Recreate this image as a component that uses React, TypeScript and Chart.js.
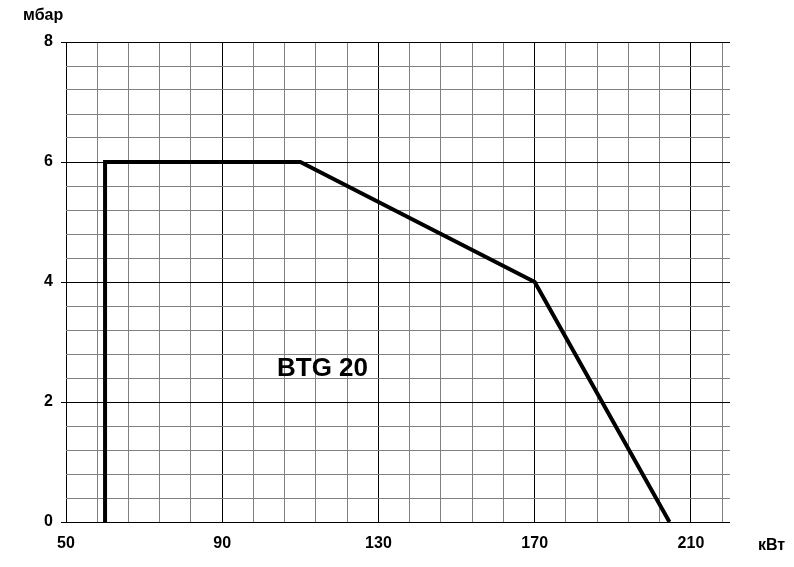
import React, { useEffect, useRef } from "react";
import { Chart, registerables } from "chart.js";

Chart.register(...registerables);

// Data
const powerKW: number[] = [60, 60, 110, 170, 204.5];
const pressureMbar: number[] = [0, 6, 6, 4, 0];

// Axis / tick definitions
const xMin = 50;
const xMax = 220;
const xGridStep = 8;
const xMajorStep = 40;
const yMin = 0;
const yMax = 8;
const yGridDiv = 20; // 0.4 steps
const yMajorStep = 2;

const xTickValues: number[] = [];
for (let v = xMin; v < xMax; v += xGridStep) xTickValues.push(v);
const yTickValues: number[] = [];
for (let i = 0; i <= yGridDiv; i++) yTickValues.push((i * (yMax - yMin)) / yGridDiv);

const modelLabel = "BTG 20";
const xUnit = "кВт";
const yUnit = "мбар";

const FONT = "'Liberation Sans', Arial, sans-serif";
const GRAY = "#808080";

const isMajorX = (v: number) => Math.abs((v - xMin) % xMajorStep) < 1e-6;
const isMajorY = (v: number) => Math.abs(v % yMajorStep) < 1e-6;

const textPlugin = {
  id: "extraText",
  afterDraw(chart: any) {
    const ctx = chart.ctx;
    ctx.save();
    ctx.fillStyle = "#000";
    ctx.textAlign = "left";
    ctx.textBaseline = "alphabetic";
    ctx.font = `bold 16px ${FONT}`;
    ctx.fillText(yUnit, 23, 20);
    ctx.fillText(xUnit, 758, 550);
    ctx.font = `bold 26px ${FONT}`;
    ctx.fillText(modelLabel, 277, 376);
    ctx.restore();
  },
};

export default function App() {
  const ref = useRef<HTMLCanvasElement | null>(null);

  useEffect(() => {
    if (!ref.current) return;
    const chart = new Chart(ref.current, {
      type: "line",
      data: {
        datasets: [
          {
            data: powerKW.map((x, i) => ({ x, y: pressureMbar[i] })),
            borderColor: "#000",
            borderWidth: 4,
            pointRadius: 0,
            tension: 0,
            fill: false,
            borderJoinStyle: "miter",
            borderCapStyle: "butt",
          },
        ],
      },
      options: {
        animation: false,
        responsive: false,
        maintainAspectRatio: false,
        layout: { padding: { top: 42, right: 64, left: 0, bottom: 0 } },
        plugins: {
          legend: { display: false },
          tooltip: { enabled: false },
          title: { display: false },
        },
        scales: {
          x: {
            type: "linear",
            min: xMin,
            max: xMax,
            afterBuildTicks: (s: any) => {
              s.ticks = xTickValues.map((v) => ({ value: v }));
            },
            afterFit: (s: any) => {
              s.height = 45;
            },
            border: { display: false },
            grid: {
              drawTicks: false,
              lineWidth: 1,
              color: (c: any) => (isMajorX(c.tick.value) ? "#000" : GRAY),
            },
            ticks: {
              autoSkip: false,
              maxRotation: 0,
              padding: 12,
              color: "#000",
              font: { family: FONT, size: 16, weight: "bold" },
              callback: (v: any) => (isMajorX(Number(v)) ? String(v) : ""),
            },
          },
          y: {
            type: "linear",
            min: yMin,
            max: yMax,
            afterBuildTicks: (s: any) => {
              s.ticks = yTickValues.map((v) => ({ value: v }));
            },
            afterFit: (s: any) => {
              s.width = 66;
            },
            border: { display: false },
            grid: {
              drawTicks: true,
              tickLength: 5,
              lineWidth: 1,
              color: (c: any) => (isMajorY(c.tick.value) ? "#000" : GRAY),
              tickColor: (c: any) => (isMajorY(c.tick.value) ? "#000" : "rgba(0,0,0,0)"),
            },
            ticks: {
              autoSkip: false,
              padding: 8,
              color: "#000",
              font: { family: FONT, size: 16, weight: "bold" },
              callback: (v: any) => (isMajorY(Number(v)) ? String(v) : ""),
            },
          },
        },
      },
      plugins: [textPlugin],
    } as any);
    return () => chart.destroy();
  }, []);

  return (
    <div style={{ position: "absolute", left: 0, top: 0, width: 794, height: 567, background: "#fff" }}>
      <canvas ref={ref} width={794} height={567} />
    </div>
  );
}
